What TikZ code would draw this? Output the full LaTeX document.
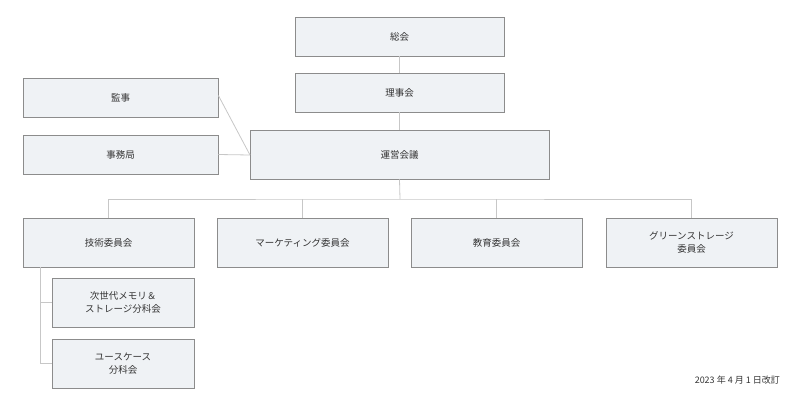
\documentclass[tikz,border=0pt]{standalone}
\usepackage{fontspec}
\setmainfont{Noto Sans CJK JP}
\begin{document}
\begin{tikzpicture}[x=1pt,y=-1pt,
  box/.style={draw=black!45,fill={rgb,255:red,239;green,242;blue,245},line width=0.8pt,inner sep=0pt,align=center,text=black!80,font=\fontsize{9.5}{13}\selectfont},
  ln/.style={draw=black!22,line width=0.8pt}]
\useasboundingbox (0,0) rectangle (800,410);
\newcommand{\bx}[6]{\node[box,minimum width=#4-#2,minimum height=#5-#3] (#1) at ({(#2+#4)/2},{(#3+#5)/2}) {#6};}
\bx{sokai}{295}{17}{504}{56}{総会}
\bx{riji}{295}{73}{504}{112}{理事会}
\bx{kanji}{23}{78}{218}{117}{監事}
\bx{jimu}{23}{135}{218}{174}{事務局}
\bx{unei}{250}{130}{549}{179}{運営会議}
\bx{gijutsu}{23}{218}{194}{267}{技術委員会}
\bx{mkt}{217}{218}{388}{267}{マーケティング委員会}
\bx{kyoiku}{411}{218}{582}{267}{教育委員会}
\bx{green}{606}{218}{777}{267}{グリーンストレージ\\委員会}
\bx{jisedai}{52}{278}{194}{327}{次世代メモリ＆\\ストレージ分科会}
\bx{use}{52}{339}{194}{388}{ユースケース\\分科会}
\node[anchor=east,text=black!80,font=\fontsize{9}{11}\selectfont,inner sep=0pt] (date) at (780,380) {2023 年 4 月 1 日改訂};
\coordinate (bus) at (400,199);
\coordinate (join) at (250,155);
\draw[ln] (sokai) -- (riji);
\draw[ln] (riji) -- (unei);
\draw[ln] (kanji.east) ++(0,-2) -- (join);
\draw[ln] (jimu.east) -- (join);
\draw[ln] (unei.south) -- (bus);
\draw[ln] (gijutsu.north) |- (bus) -| (green.north);
\draw[ln] (mkt.north) -- (mkt.north |- bus);
\draw[ln] (kyoiku.north) -- (kyoiku.north |- bus);
\coordinate (sub) at (40,267);
\draw[ln] (sub) |- (use.west);
\draw[ln] (sub |- jisedai.west) -- (jisedai.west);
\end{tikzpicture}
\end{document}
